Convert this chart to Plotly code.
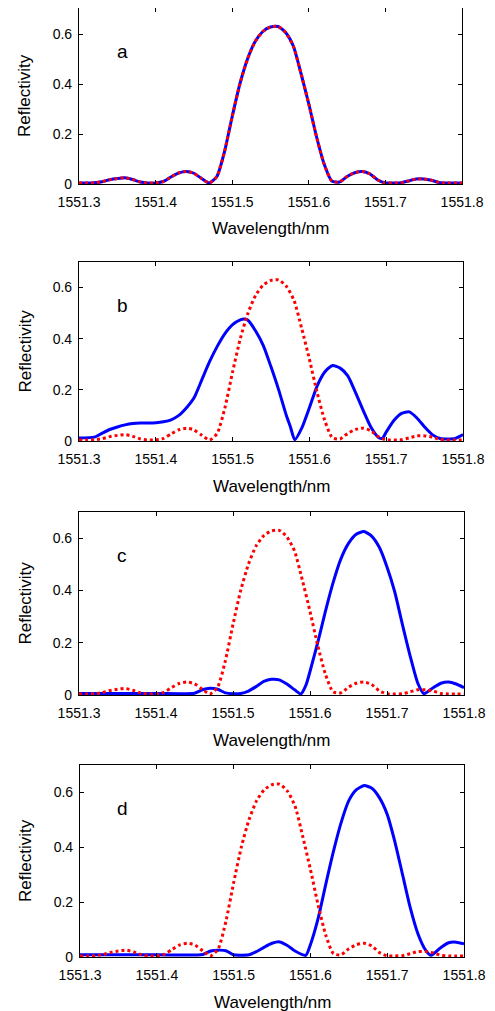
import plotly.graph_objects as go

# ---------------- data ----------------
wavelength = [1551.30, 1551.31, 1551.32, 1551.33, 1551.34, 1551.35, 1551.36, 1551.37, 1551.38, 1551.39,
              1551.40, 1551.41, 1551.42, 1551.43, 1551.44, 1551.45, 1551.46, 1551.47, 1551.48, 1551.49,
              1551.50, 1551.51, 1551.52, 1551.53, 1551.54, 1551.55, 1551.56, 1551.57, 1551.58, 1551.59,
              1551.60, 1551.61, 1551.62, 1551.63, 1551.64, 1551.65, 1551.66, 1551.67, 1551.68, 1551.69,
              1551.70, 1551.71, 1551.72, 1551.73, 1551.74, 1551.75, 1551.76, 1551.77, 1551.78, 1551.79,
              1551.80]

# reference (unstrained) grating reflectivity - red dotted in all panels
reference = [0.004, 0.004, 0.005, 0.009, 0.017, 0.022, 0.025, 0.018, 0.008, 0.004,
             0.004, 0.010, 0.028, 0.044, 0.050, 0.043, 0.022, 0.004, 0.030, 0.130,
             0.270, 0.400, 0.500, 0.570, 0.610, 0.628, 0.630, 0.605, 0.550, 0.440,
             0.320, 0.190, 0.080, 0.012, 0.008, 0.030, 0.045, 0.050, 0.040, 0.016,
             0.004, 0.004, 0.005, 0.012, 0.020, 0.020, 0.015, 0.006, 0.004, 0.004,
             0.004]

# panel a: blue coincides with reference
blue_a_x = wavelength
blue_a_y = reference

# panel b
blue_b_x = [1551.30, 1551.32, 1551.33, 1551.34, 1551.35, 1551.36, 1551.37, 1551.38, 1551.39, 1551.40,
            1551.41, 1551.42, 1551.43, 1551.44, 1551.45, 1551.46, 1551.47, 1551.48, 1551.49, 1551.50,
            1551.51, 1551.516, 1551.52, 1551.53, 1551.54, 1551.55, 1551.56, 1551.57, 1551.575, 1551.581,
            1551.59, 1551.60, 1551.61, 1551.62, 1551.63, 1551.64, 1551.65, 1551.66, 1551.67, 1551.68,
            1551.69, 1551.695, 1551.70, 1551.71, 1551.72, 1551.73, 1551.74, 1551.75, 1551.76, 1551.77,
            1551.78, 1551.79, 1551.80]
blue_b_y = [0.012, 0.015, 0.030, 0.045, 0.055, 0.063, 0.068, 0.070, 0.070, 0.071,
            0.075, 0.083, 0.100, 0.130, 0.170, 0.240, 0.310, 0.370, 0.420, 0.455,
            0.474, 0.477, 0.472, 0.430, 0.373, 0.290, 0.200, 0.100, 0.058, 0.005,
            0.050, 0.130, 0.215, 0.270, 0.295, 0.285, 0.255, 0.190, 0.120, 0.055,
            0.014, 0.010, 0.035, 0.080, 0.108, 0.114, 0.090, 0.055, 0.025, 0.010,
            0.008, 0.010, 0.025]

# panel c
blue_c_x = [1551.30, 1551.35, 1551.40, 1551.45, 1551.46, 1551.47, 1551.48, 1551.49, 1551.50, 1551.51,
            1551.52, 1551.53, 1551.54, 1551.55, 1551.56, 1551.57, 1551.58, 1551.588, 1551.595, 1551.60,
            1551.61, 1551.62, 1551.63, 1551.64, 1551.65, 1551.66, 1551.67, 1551.68, 1551.69, 1551.70,
            1551.71, 1551.72, 1551.73, 1551.74, 1551.748, 1551.76, 1551.77, 1551.78, 1551.79, 1551.80]
blue_c_y = [0.006, 0.006, 0.006, 0.007, 0.020, 0.026, 0.022, 0.008, 0.005, 0.006,
            0.015, 0.032, 0.052, 0.060, 0.058, 0.042, 0.020, 0.004, 0.040, 0.090,
            0.200, 0.320, 0.430, 0.520, 0.580, 0.615, 0.625, 0.608, 0.565, 0.490,
            0.395, 0.270, 0.150, 0.045, 0.005, 0.028, 0.045, 0.050, 0.042, 0.028]

# panel d
blue_d_x = [1551.30, 1551.40, 1551.46, 1551.47, 1551.48, 1551.49, 1551.50, 1551.52, 1551.53, 1551.54,
            1551.55, 1551.56, 1551.57, 1551.58, 1551.594, 1551.60, 1551.61, 1551.62, 1551.63, 1551.64,
            1551.65, 1551.66, 1551.67, 1551.68, 1551.69, 1551.70, 1551.71, 1551.72, 1551.73, 1551.74,
            1551.75, 1551.757, 1551.77, 1551.78, 1551.79, 1551.80]
blue_d_y = [0.008, 0.008, 0.009, 0.022, 0.025, 0.023, 0.008, 0.008, 0.020, 0.036,
            0.050, 0.055, 0.042, 0.022, 0.006, 0.045, 0.140, 0.265, 0.385, 0.490,
            0.570, 0.610, 0.625, 0.615, 0.580, 0.520, 0.420, 0.300, 0.180, 0.085,
            0.025, 0.006, 0.035, 0.052, 0.054, 0.048]

panel_labels = ["a", "b", "c", "d"]
x_tickvals = [1551.3, 1551.4, 1551.5, 1551.6, 1551.7, 1551.8]
x_ticktext = ["1551.3", "1551.4", "1551.5", "1551.6", "1551.7", "1551.8"]
y_tickvals = [0, 0.2, 0.4, 0.6]
y_ticktext = ["0", "0.2", "0.4", "0.6"]
x_title = "Wavelength/nm"
y_title = "Reflectivity"

blue_series = [(blue_a_x, blue_a_y), (blue_b_x, blue_b_y), (blue_c_x, blue_c_y), (blue_d_x, blue_d_y)]

# ---------------- layout geometry (window pixels) ----------------
OFF = 8                      # default HTML body margin
W, H = 495 - OFF, 1011 - OFF  # figure size so it exactly fills the window
# (left, right, top, bottom) of each plot box in window pixels
boxes = [(79, 462, 8, 184), (79, 463, 262, 441), (79, 464, 512, 695), (80, 464, 765, 957)]
y_tops = [0.704, 0.70, 0.70, 0.70]
FONT = "Liberation Sans, Arial, sans-serif"


def px(xw):
    return min(1.0, max(0.0, (xw - OFF) / W))


def py(yw):
    return min(1.0, max(0.0, 1 - (yw - OFF) / H))


fig = go.Figure()
annotations = []
layout = {}
for i, (bx, by) in enumerate(blue_series):
    n = "" if i == 0 else str(i + 1)
    xa, ya = "x" + n, "y" + n
    fig.add_trace(go.Scatter(x=bx, y=by, mode="lines", xaxis=xa, yaxis=ya,
                             line=dict(color="#0000ff", width=3, shape="spline", smoothing=0.6),
                             showlegend=False, hoverinfo="skip"))
    fig.add_trace(go.Scatter(x=wavelength, y=reference, mode="lines", xaxis=xa, yaxis=ya,
                             line=dict(color="#ff0000", width=3, dash="dot", shape="spline", smoothing=0.6),
                             showlegend=False, hoverinfo="skip"))
    l, r, t, b = boxes[i]
    axis_common = dict(showline=True, linecolor="black", linewidth=1.2, mirror="ticks",
                       ticks="inside", ticklen=4, tickcolor="black", showgrid=False, zeroline=False,
                       tickfont=dict(family=FONT, size=14, color="black"), automargin=False)
    layout["xaxis" + n] = dict(domain=[px(l), px(r)], anchor=ya, range=[1551.3, 1551.8],
                               tickvals=x_tickvals, ticktext=x_ticktext, ticklabelstandoff=5,
                               **axis_common)
    layout["yaxis" + n] = dict(domain=[py(b), py(t)], anchor=xa, range=[0, y_tops[i]],
                               tickvals=y_tickvals, ticktext=y_ticktext, ticklabelstandoff=3,
                               **axis_common)
    cx = (l + r) / 2
    cy = (t + b) / 2
    annotations.append(dict(text=x_title, xref="paper", yref="paper", x=px(cx), y=py(b + 45),
                            showarrow=False, xanchor="center", yanchor="middle",
                            font=dict(family=FONT, size=17, color="black")))
    annotations.append(dict(text=y_title, xref="paper", yref="paper", x=px(25), y=py(cy),
                            showarrow=False, xanchor="center", yanchor="middle", textangle=-90,
                            font=dict(family=FONT, size=17, color="black")))
    annotations.append(dict(text=panel_labels[i], xref="paper", yref="paper", x=px(122),
                            y=py(t + 43), showarrow=False, xanchor="center", yanchor="middle",
                            font=dict(family=FONT, size=19, color="black")))

fig.update_layout(width=W, height=H, margin=dict(l=0, r=0, t=0, b=0),
                  paper_bgcolor="white", plot_bgcolor="white",
                  font=dict(family=FONT, color="black"),
                  annotations=annotations, showlegend=False, **layout)

fig.write_html("out.html")
